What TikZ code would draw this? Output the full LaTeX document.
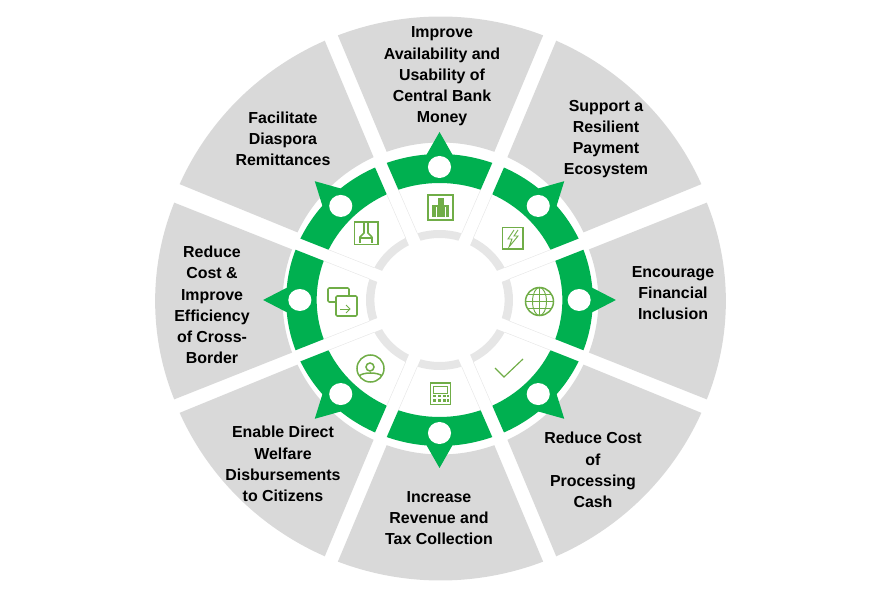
\documentclass[tikz,border=0pt]{standalone}
\usepackage{fontspec}
\setmainfont{Liberation Sans}
\definecolor{wedgegray}{HTML}{D9D9D9}
\definecolor{ringgray}{HTML}{E6E6E6}
\definecolor{bandgreen}{HTML}{00B050}
\definecolor{icongreen}{HTML}{70AD47}
\tikzset{
  sectorlabel/.style={align=center,inner sep=0pt,font=\fontsize{13.6}{18.1}\selectfont\bfseries},
  iconline/.style={draw=icongreen,line width=1.3pt},
  iconthin/.style={draw=icongreen,line width=0.8pt}
}
\newcommand{\graywedge}[1]{%
  \fill[wedgegray,#1] (-19.93:156) arc[start angle=-19.93,end angle=19.93,radius=156]
    -- (21.08:282) arc[start angle=21.08,end angle=-21.08,radius=282] -- cycle;
}
\newcommand{\ringband}[1]{%
  \begin{scope}[rotate=#1]
    \fill[bandgreen] (-19.56:117) arc[start angle=-19.56,end angle=19.56,radius=117]
      -- (20.14:146) arc[start angle=20.14,end angle=-20.14,radius=146] -- cycle;
    \fill[bandgreen] (145,-12.5) -- (168,0) -- (145,12.5) -- cycle;
    \fill[white] (133,0) circle[radius=11];
    \fill[ringgray] (-16.95:62) arc[start angle=-16.95,end angle=16.95,radius=62]
      -- (17.58:70) arc[start angle=17.58,end angle=-17.58,radius=70] -- cycle;
    \draw[ringgray,line width=0.4pt] (17.58:70) -- (19.56:117);
    \draw[ringgray,line width=0.4pt] (-17.58:70) -- (-19.56:117);
  \end{scope}
}
\begin{document}
\begin{tikzpicture}[x=0.03cm,y=0.03cm]
  \useasboundingbox (0,0) rectangle (871,588);
  \begin{scope}[shift={(440.5,289.5)},xscale=1.012]
    \graywedge{rotate=90}
    \graywedge{rotate=45}
    \graywedge{yshift=-0.075cm,yscale=0.97,rotate=0}
    \graywedge{rotate=-45}
    \graywedge{rotate=-90}
    \graywedge{rotate=-135}
    \graywedge{yshift=-0.075cm,yscale=0.97,rotate=180}
    \graywedge{rotate=135}
  \end{scope}
  \begin{scope}[shift={(439.5,288)},xscale=1.05]
    \ringband{90}
    \ringband{45}
    \ringband{0}
    \ringband{-45}
    \ringband{-90}
    \ringband{-135}
    \ringband{180}
    \ringband{135}
  \end{scope}
  % labels
  \node[sectorlabel] (availability) at (442,511.5) {Improve\\Availability and\\Usability of\\Central Bank\\Money};
  \node[sectorlabel] (ecosystem) at (606,449) {Support a\\Resilient\\Payment\\Ecosystem};
  \node[sectorlabel] (inclusion) at (673,295) {Encourage\\Financial\\Inclusion};
  \node[sectorlabel] (processing) at (593,118) {Reduce Cost\\of\\Processing\\Cash};
  \node[sectorlabel] (revenue) at (439,70) {Increase\\Revenue and\\Tax Collection};
  \node[sectorlabel] (welfare) at (283,124) {Enable Direct\\Welfare\\Disbursements\\to Citizens};
  \node[sectorlabel] (crossborder) at (212,283) {Reduce\\Cost \&\\Improve\\Efficiency\\of Cross-\\Border};
  \node[sectorlabel] (remittances) at (283,449) {Facilitate\\Diaspora\\Remittances};
  % bank icon
  \draw[iconline] (428,368) rectangle (453,393);
  \fill[icongreen] (432,371) rectangle (449,383);
  \fill[icongreen] (437.5,383) rectangle (444,389.5);
  \draw[white,line width=0.25pt] (436,371) -- (436,381);
  \draw[white,line width=0.25pt] (445,371) -- (445,381);
  % power icon
  \draw[iconline] (502.5,339) rectangle (523,360.5);
  \draw[iconthin] (514,358) -- (508,349) -- (512,349) -- (509,341) -- (518,352) -- (514,352) -- (518,358);
  % globe icon
  \draw[iconline] (539.5,286.5) circle[radius=14];
  \draw[iconthin] (539.5,286.5) ellipse[x radius=7,y radius=14];
  \draw[iconthin] (539.5,272.5) -- (539.5,300.5);
  \draw[iconthin] (525.5,286.5) -- (553.5,286.5);
  \draw[iconthin] (527.5,293.5) -- (551.5,293.5);
  \draw[iconthin] (527.5,279.5) -- (551.5,279.5);
  % check icon
  \draw[icongreen,line width=1pt] (495,220) -- (504,211) -- (523,229);
  % calculator icon
  \draw[iconline] (430.5,183.5) rectangle (450.5,205);
  \draw[iconthin] (433.5,195) rectangle (447.5,201.5);
  \fill[icongreen] (433,190.5) rectangle (436,193);
  \fill[icongreen] (438,190.5) rectangle (441,193);
  \fill[icongreen] (442.5,190.5) rectangle (445.5,193);
  \fill[icongreen] (447,190.5) rectangle (448.5,193);
  \fill[icongreen] (433,186) rectangle (436,188.5);
  \fill[icongreen] (438,186) rectangle (441,188.5);
  \fill[icongreen] (442.5,186) rectangle (445.5,188.5);
  \fill[icongreen] (447,186) rectangle (448.5,188.5);
  % person icon
  \draw[iconline] (370.5,219.5) circle[radius=13.5];
  \draw[iconline] (370,221) circle[radius=4];
  \draw[iconline] (359,212) .. controls (363,216) and (378,216) .. (382,212);
  % copy icon
  \draw[iconline,rounded corners=1pt] (336,286) -- (328,286) -- (328,300) -- (349,300) -- (349,292);
  \draw[iconline,rounded corners=1pt] (336,272) rectangle (357,292);
  \draw[iconthin] (340,279) -- (350,279);
  \draw[iconthin] (346,283) -- (350,279) -- (346,275);
  % archive icon
  \draw[iconline] (354.5,343.5) rectangle (378,366);
  \draw[iconline] (360,350) -- (372,350) -- (372,345);
  \draw[iconline] (360,345) -- (360,351) -- (364,355) -- (364,365);
  \draw[iconline] (372,351) -- (368,355) -- (368,365);
\end{tikzpicture}
\end{document}
